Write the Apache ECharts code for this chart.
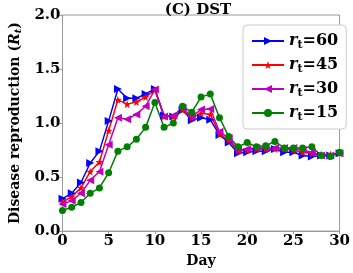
<!DOCTYPE html>
<html><head><meta charset="utf-8">
<script src="https://cdn.jsdelivr.net/npm/echarts@6/dist/echarts.min.js"></script>
<style>html,body{margin:0;padding:0;background:#fff}#c{width:353px;height:273px}</style>
</head><body><div id="c"></div>
<script>
var days = [];
for (var i = 0; i <= 30; i++) days.push(i);
var seriesNames = ['60', '45', '30', '15'];
var r60 = [0.30,0.35,0.45,0.63,0.74,1.02,1.315,1.23,1.23,1.27,1.315,1.07,1.06,1.12,1.025,1.05,1.03,0.89,0.82,0.72,0.73,0.74,0.74,0.76,0.73,0.73,0.70,0.69,0.70,0.70,0.72];
var r45 = [0.27,0.32,0.40,0.55,0.64,0.93,1.215,1.175,1.195,1.24,1.305,1.06,1.06,1.12,1.05,1.09,1.08,0.90,0.84,0.74,0.75,0.76,0.76,0.76,0.76,0.75,0.73,0.72,0.71,0.71,0.72];
var r30 = [0.25,0.28,0.35,0.47,0.55,0.80,1.05,1.035,1.08,1.155,1.31,1.06,1.07,1.14,1.06,1.125,1.13,0.92,0.86,0.75,0.76,0.77,0.77,0.77,0.77,0.77,0.75,0.73,0.70,0.70,0.72];
var r15 = [0.19,0.22,0.265,0.35,0.40,0.54,0.74,0.78,0.85,0.96,1.19,0.96,1.00,1.155,1.10,1.24,1.27,1.05,0.875,0.78,0.82,0.78,0.79,0.83,0.77,0.77,0.77,0.78,0.70,0.69,0.73];
var yTicks = ['0.0','0.5','1.0','1.5','2.0'];

var star = 'path://M50,0 L61.8,35.1 L97.6,34.5 L68.8,56.3 L79.4,90.5 L50,70 L20.6,90.5 L31.2,56.3 L2.4,34.5 L38.2,35.1 Z';
var font = 'DejaVu Serif';
function mk(name, data, color, symbol, size, rot) {
  return {
    name: name, type: 'line', data: days.map(function (d, i) { return [d, data[i]]; }),
    symbol: symbol, symbolSize: size, symbolRotate: rot || 0,
    lineStyle: { color: color, width: 1.5 }, itemStyle: { color: color },
    emphasis: { disabled: true }, animation: false
  };
}
var chart = echarts.init(document.getElementById('c'));
chart.setOption({
  backgroundColor: '#fff',
  title: { text: '(C) DST', left: 193, textAlign: 'center', top: -2,
    textStyle: { fontFamily: font, fontWeight: 'bold', fontSize: 15, color: '#000' } },
  grid: { left: 45, right: 12, top: 15, bottom: 37, show: true, borderColor: '#999', borderWidth: 1 },
  legend: {
    orient: 'vertical', left: 243, top: 25, itemGap: 6, itemWidth: 32, itemHeight: 10,
    backgroundColor: '#fff', borderColor: '#ccc', borderWidth: 1, borderRadius: 4, padding: [8, 8, 6, 8],
    data: seriesNames,
    formatter: function (n) { return '{i|r}{s|t}{n|=' + n + '}'; },
    textStyle: {
      fontFamily: font, fontWeight: 'bold', color: '#000', fontSize: 16,
      rich: {
        i: { fontFamily: font, fontStyle: 'italic', fontWeight: 'bold', fontSize: 16, color: '#000' },
        s: { fontFamily: font, fontWeight: 'bold', fontSize: 11, color: '#000', verticalAlign: 'bottom', padding: [9, 0, 0, 0] },
        n: { fontFamily: font, fontWeight: 'bold', fontSize: 16, color: '#000' }
      }
    }
  },
  xAxis: {
    type: 'value', min: 0, max: 30, interval: 5,
    name: 'Day', nameLocation: 'middle', nameGap: 20,
    nameTextStyle: { fontFamily: font, fontWeight: 'bold', fontSize: 14, color: '#000' },
    axisLine: { show: true, lineStyle: { color: '#999' } },
    axisTick: { show: true, length: 3, lineStyle: { color: '#999' } },
    splitLine: { show: false },
    axisLabel: { fontFamily: font, fontWeight: 'bold', fontSize: 15, color: '#000', margin: 3 }
  },
  yAxis: {
    type: 'value', min: 0, max: 2, interval: 0.5,
    name: '{a|Disease reproduction (}{b|R}{c|t}{a|)}', nameLocation: 'middle', nameGap: 32,
    nameTextStyle: { fontFamily: font, fontWeight: 'bold', fontSize: 14, color: '#000',
      rich: {
        a: { fontFamily: font, fontWeight: 'bold', fontSize: 14, color: '#000' },
        b: { fontFamily: font, fontWeight: 'bold', fontStyle: 'italic', fontSize: 14, color: '#000' },
        c: { fontFamily: font, fontWeight: 'bold', fontStyle: 'italic', fontSize: 10, color: '#000', verticalAlign: 'bottom', padding: [7, 0, 0, 0] }
      } },
    axisLine: { show: true, lineStyle: { color: '#999' } },
    axisTick: { show: true, length: 3, lineStyle: { color: '#999' } },
    splitLine: { show: false },
    axisLabel: { fontFamily: font, fontWeight: 'bold', fontSize: 15, color: '#000', margin: 2,
      formatter: function (v) { return yTicks[Math.round(v * 2)]; } }
  },
  series: [
    mk('60', r60, '#0000ff', 'triangle', 8, -90),
    mk('45', r45, '#ff0000', star, 8, 0),
    mk('30', r30, '#bf00bf', 'triangle', 8, 90),
    mk('15', r15, '#008000', 'circle', 7, 0)
  ]
});
</script></body></html>
